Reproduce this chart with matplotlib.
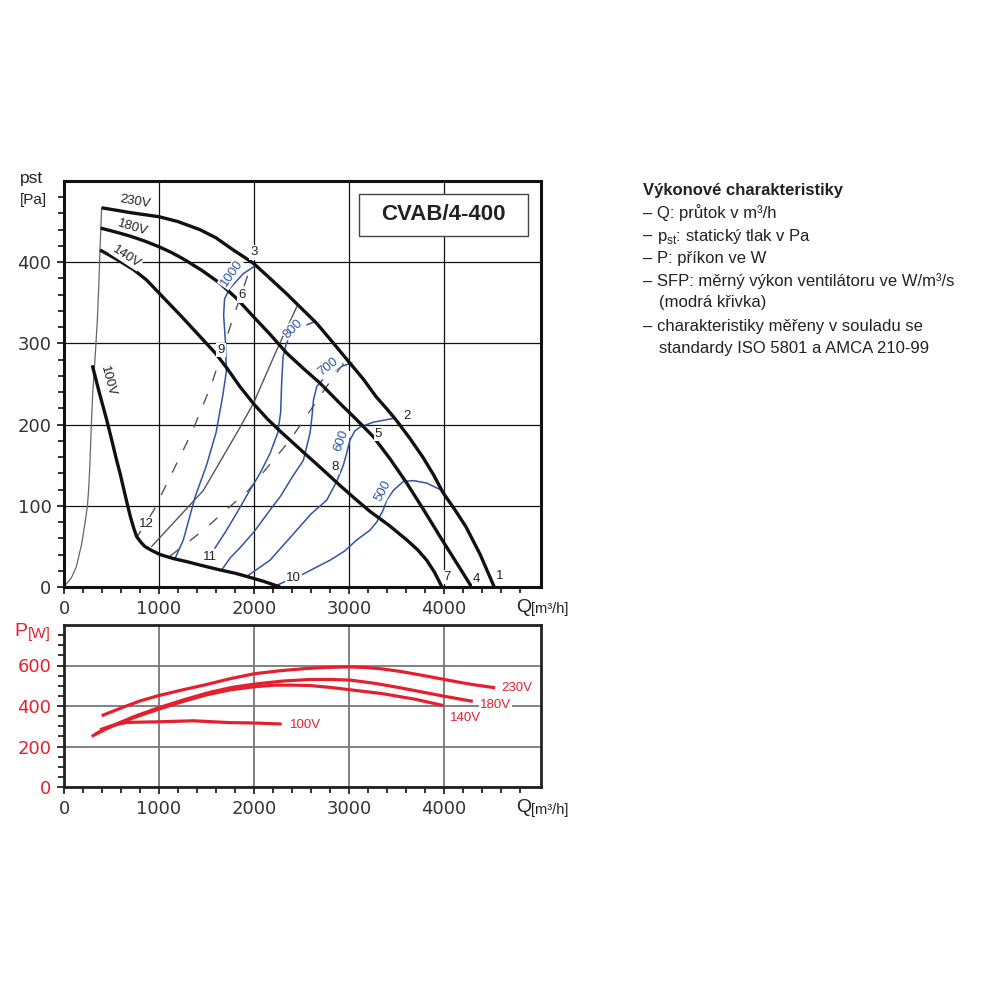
import matplotlib.pyplot as plt
from matplotlib.patches import Rectangle

plt.rcParams['font.family'] = ['Liberation Sans', 'DejaVu Sans']

# --- fan curves: static pressure [Pa] vs flow [m3/h] ---
q_230 = [396, 500, 700, 1000, 1200, 1432, 1600, 1782, 1900, 2000, 2150, 2344, 2500, 2657, 2830,
         3000, 3150, 3287, 3400, 3500, 3640, 3776, 3890, 3990, 4120, 4231, 4380, 4528]
p_230 = [467, 465, 461, 456, 450, 440, 430, 415, 406, 398, 382, 361, 343, 325, 301,
         277, 256, 234, 219, 205, 183, 160, 138, 116, 94, 74, 40, 0]
q_180 = [386, 550, 700, 850, 1000, 1130, 1256, 1450, 1642, 1820, 1993, 2170, 2344, 2520, 2695,
         2905, 3080, 3256, 3430, 3607, 3780, 3958, 4130, 4290]
p_180 = [442, 437, 432, 426, 419, 412, 404, 390, 374, 355, 333, 311, 288, 269, 251,
         226, 206, 185, 158, 128, 96, 62, 30, 0]
q_140 = [379, 550, 730, 870, 1000, 1230, 1467, 1600, 1712, 1850, 2000, 2140, 2274, 2500, 2700,
         2905, 3060, 3221, 3420, 3607, 3720, 3817, 3900, 3978]
p_140 = [415, 404, 391, 378, 362, 334, 304, 287, 270, 247, 225, 207, 192, 168, 147,
         125, 109, 93, 76, 58, 46, 33, 18, 0]
q_100 = [298, 370, 449, 500, 554, 590, 620, 660, 700, 735, 765, 810, 850, 923, 1010, 1151,
         1300, 1432, 1642, 1800, 1923, 2100, 2274]
p_100 = [273, 240, 206, 182, 156, 140, 125, 105, 86, 72, 62, 55, 50, 45, 40, 35,
         31, 27, 21, 17, 13, 7, 0]

# thin curve from origin
q_lim = [0, 11, 40, 81, 130, 186, 220, 246, 262, 274, 288, 302, 326, 351, 366, 379, 390, 396]
p_lim = [0, 2, 6, 12, 25, 53, 78, 99, 125, 156, 200, 238, 280, 329, 370, 415, 450, 467]

# system curves
q_sys1 = [760, 947, 1344, 1554, 1747, 1975]
p_sys1 = [60, 95, 190, 250, 320, 398]
q_sys2 = [923, 1467, 1835, 1993, 2239, 2449]
p_sys2 = [50, 119, 193, 226, 292, 345]
q_sys3 = [1116, 1467, 1940, 2379, 2835, 2980]
p_sys3 = [38, 70, 119, 181, 259, 281]

# SFP curves (blue)
q_sfp1000 = [1168, 1256, 1380, 1500, 1600, 1670, 1708, 1700, 1680, 1690, 1747, 1888, 2005]
p_sfp1000 = [35, 58, 111, 150, 190, 235, 265, 300, 335, 355, 368, 386, 395]
q_sfp800 = [1589, 1700, 1818, 1950, 2063, 2170, 2250, 2280, 2290, 2305, 2340, 2400, 2500, 2642]
p_sfp800 = [48, 68, 91, 118, 140, 165, 190, 215, 250, 283, 300, 312, 320, 327]
q_sfp700 = [1660, 1750, 1850, 2000, 2170, 2280, 2400, 2519, 2590, 2610, 2625, 2660, 2765, 2905, 3028]
p_sfp700 = [21, 36, 48, 68, 95, 112, 135, 156, 190, 210, 230, 247, 261, 271, 276]
q_sfp600 = [1923, 2168, 2449, 2600, 2765, 2870, 2940, 2975, 3010, 3060, 3116, 3256, 3484]
p_sfp600 = [13, 33, 70, 90, 107, 130, 150, 165, 181, 192, 197, 203, 208]
q_sfp500 = [2239, 2350, 2502, 2650, 2800, 2950, 3081, 3221, 3291, 3360, 3396, 3467, 3572, 3677, 3817, 3958]
p_sfp500 = [2, 8, 15, 24, 33, 44, 58, 70, 80, 95, 107, 119, 130, 131, 128, 120]

# point numbers
pt_labels = ['1', '2', '3', '4', '5', '6', '7', '8', '9', '10', '11', '12']
pt_q = [4589, 3607, 2000, 4344, 3309, 1870, 4035, 2853, 1653, 2414, 1537, 870]
pt_p = [13, 210, 412, 10, 189, 359, 12, 148, 292, 11, 37, 78]

# --- power [W] vs flow ---
pq_230 = [397, 600, 800, 1000, 1250, 1500, 1750, 2000, 2270, 2545, 2800, 3000, 3180, 3351,
          3550, 3754, 4003, 4150, 4300, 4537]
pw_230 = [352, 390, 425, 452, 480, 506, 535, 559, 574, 585, 591, 593, 590, 583,
          570, 553, 531, 518, 506, 490]
pq_180 = [379, 532, 750, 1000, 1270, 1538, 1770, 2000, 2300, 2589, 2800, 3011, 3270, 3537,
          3770, 4003, 4302]
pw_180 = [283, 307, 350, 392, 432, 468, 492, 508, 523, 531, 531, 528, 512, 490,
          469, 448, 423]
pq_140 = [291, 400, 500, 750, 1000, 1250, 1500, 1750, 2000, 2223, 2400, 2589, 2800, 2996,
          3351, 3700, 3993]
pw_140 = [250, 277, 300, 345, 385, 422, 455, 480, 495, 503, 503, 501, 492, 481,
          461, 433, 402]
pq_100 = [330, 450, 550, 660, 1000, 1361, 1740, 2000, 2291]
pw_100 = [262, 290, 308, 319, 322, 327, 318, 316, 311]

black = '#111111'
blue = '#2f55a4'
red = '#e5202e'
grey = '#555555'
txt = '#222222'
tick_font = 'DejaVu Sans'

fig = plt.figure(figsize=(10, 10), dpi=100)

# ================= top chart =================
ax = fig.add_axes([0.064, 0.413, 0.477, 0.406])
ax.set_xlim(0, 5020)
ax.set_ylim(0, 500)

ax.plot(q_lim, p_lim, color='#666666', lw=0.9)
ax.plot(q_sys1, p_sys1, color=grey, lw=1.0, dashes=(8, 10))
ax.plot(q_sys2, p_sys2, color=grey, lw=1.0)
ax.plot(q_sys3, p_sys3, color=grey, lw=1.0, dashes=(8, 10))

for q, p in [(q_sfp1000, p_sfp1000), (q_sfp800, p_sfp800), (q_sfp700, p_sfp700),
             (q_sfp600, p_sfp600), (q_sfp500, p_sfp500)]:
    ax.plot(q, p, color=blue, lw=1.1)

for q, p in [(q_230, p_230), (q_180, p_180), (q_140, p_140), (q_100, p_100)]:
    ax.plot(q, p, color=black, lw=2.4, solid_capstyle='butt', solid_joinstyle='round')

wbox = dict(boxstyle='square,pad=0.08', fc='white', ec='none')
for t, q, p in zip(pt_labels, pt_q, pt_p):
    ax.text(q, p, t, fontsize=9.5, color=txt, ha='center', va='center', bbox=wbox, zorder=5)

ax.text(747, 475, '230V', fontsize=9.5, color=txt, rotation=-10, ha='center', va='center', bbox=wbox, zorder=5)
ax.text(723, 443, '180V', fontsize=9.5, color=txt, rotation=-17, ha='center', va='center', bbox=wbox, zorder=5)
ax.text(660, 407, '140V', fontsize=9.5, color=txt, rotation=-33, ha='center', va='center', bbox=wbox, zorder=5)
ax.text(467, 253, '100V', fontsize=9.5, color=txt, rotation=-75, ha='center', va='center', zorder=5)

ax.text(1765, 386, '1000', fontsize=9.5, color=blue, rotation=55, ha='center', va='center', bbox=wbox, zorder=5)
ax.text(2414, 318, '800', fontsize=9.5, color=blue, rotation=45, ha='center', va='center', bbox=wbox, zorder=5)
ax.text(2782, 271, '700', fontsize=9.5, color=blue, rotation=38, ha='center', va='center', bbox=wbox, zorder=5)
ax.text(2916, 180, '600', fontsize=9.5, color=blue, rotation=70, ha='center', va='center', bbox=wbox, zorder=5)
ax.text(3361, 118, '500', fontsize=9.5, color=blue, rotation=62, ha='center', va='center', bbox=wbox, zorder=5)

ax.add_patch(Rectangle((0.618, 0.865), 0.355, 0.103, transform=ax.transAxes,
                       fc='white', ec='#444444', lw=1.0, zorder=6))
ax.text(0.7955, 0.9165, 'CVAB/4-400', transform=ax.transAxes, fontsize=16, fontweight='bold',
        color=txt, ha='center', va='center', zorder=7)

ax.set_xticks([0, 1000, 2000, 3000, 4000])
ax.set_xticks(range(0, 5000, 200), minor=True)
ax.set_yticks([0, 100, 200, 300, 400])
ax.set_yticks(range(0, 500, 20), minor=True)
ax.grid(True, which='major', color=black, lw=0.9)
ax.set_axisbelow(True)
ax.tick_params(which='both', direction='out', color=black, width=1.2, labelsize=13, labelcolor='#333333')
ax.tick_params(which='major', length=5, pad=4)
ax.tick_params(which='minor', length=4)
for lab in ax.get_xticklabels() + ax.get_yticklabels():
    lab.set_family(tick_font)
for s in ax.spines.values():
    s.set_linewidth(2.2)
    s.set_color(black)

# ================= bottom chart =================
bx = fig.add_axes([0.064, 0.213, 0.477, 0.162])
bx.set_xlim(0, 5020)
bx.set_ylim(0, 800)
for q, w in [(pq_230, pw_230), (pq_180, pw_180), (pq_140, pw_140), (pq_100, pw_100)]:
    bx.plot(q, w, color=red, lw=2.3, solid_capstyle='butt', solid_joinstyle='round')

bx.text(4607, 490, '230V', fontsize=9.5, color=red, ha='left', va='center', bbox=wbox, zorder=5)
bx.text(4379, 407, '180V', fontsize=9.5, color=red, ha='left', va='center', bbox=wbox, zorder=5)
bx.text(4063, 341, '140V', fontsize=9.5, color=red, ha='left', va='center', bbox=wbox, zorder=5)
bx.text(2379, 307, '100V', fontsize=9.5, color=red, ha='left', va='center', bbox=wbox, zorder=5)

bx.set_xticks([0, 1000, 2000, 3000, 4000])
bx.set_xticks(range(0, 5000, 200), minor=True)
bx.set_yticks([0, 200, 400, 600])
bx.set_yticks(range(0, 800, 50), minor=True)
bx.grid(True, which='major', color='#777777', lw=1.3)
bx.set_axisbelow(True)
bx.tick_params(which='both', direction='out', color=black, width=1.2, labelsize=13, labelcolor='#333333')
bx.tick_params(axis='y', labelcolor=red)
bx.tick_params(which='major', length=5, pad=4)
bx.tick_params(which='minor', length=4)
for lab in bx.get_xticklabels() + bx.get_yticklabels():
    lab.set_family(tick_font)
for s in bx.spines.values():
    s.set_linewidth(2.0)
    s.set_color('#222222')

# axis titles
fig.text(0.020, 0.821, 'pst', fontsize=12.5, color=txt, va='center')
fig.text(0.020, 0.800, '[Pa]', fontsize=11, color=txt, va='center', ha='left')
fig.text(0.516, 0.393, 'Q', fontsize=14, color=txt, va='center')
fig.text(0.531, 0.391, '[m³/h]', fontsize=10.5, color=txt, va='center')
fig.text(0.516, 0.192, 'Q', fontsize=14, color=txt, va='center')
fig.text(0.531, 0.190, '[m³/h]', fontsize=10.5, color=txt, va='center')
fig.text(0.014, 0.368, 'P', fontsize=14, color=red, va='center')
fig.text(0.028, 0.366, '[W]', fontsize=11, color=red, va='center')

# description block
lines_y = [0.810, 0.787, 0.764, 0.742, 0.719, 0.697, 0.674, 0.652]
fig.text(0.643, lines_y[0], 'Výkonové charakteristiky', fontsize=12, fontweight='bold', color=txt, va='center')
fig.text(0.643, lines_y[1], '– Q: průtok v m³/h', fontsize=12, color=txt, va='center')
fig.text(0.643, lines_y[2], '–', fontsize=12, color=txt, va='center')
fig.text(0.657, lines_y[2], 'p$_{\\mathregular{st}}$: statický tlak v Pa', fontsize=12, color=txt, va='center')
fig.text(0.643, lines_y[3], '– P: příkon ve W', fontsize=12, color=txt, va='center')
fig.text(0.643, lines_y[4], '– SFP: měrný výkon ventilátoru ve W/m³/s', fontsize=12, color=txt, va='center')
fig.text(0.659, lines_y[5], '(modrá křivka)', fontsize=12, color=txt, va='center')
fig.text(0.643, lines_y[6], '– charakteristiky měřeny v souladu se', fontsize=12, color=txt, va='center')
fig.text(0.659, lines_y[7], 'standardy ISO 5801 a AMCA 210-99', fontsize=12, color=txt, va='center')

plt.savefig('out.png', dpi=100)
